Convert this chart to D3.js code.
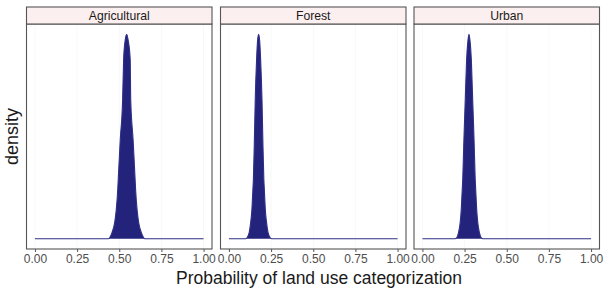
<!DOCTYPE html>
<html><head><meta charset="utf-8">
<script src="https://cdn.jsdelivr.net/npm/d3@7"></script>
<style>body{margin:0;background:#fff}svg{display:block}text{font-family:"Liberation Sans",Arial,Helvetica,sans-serif}</style>
</head><body>
<script>
const categories = ["Agricultural", "Forest", "Urban"];
const xTicks = [0, 0.25, 0.5, 0.75, 1];
const xTickLabels = ["0.00", "0.25", "0.50", "0.75", "1.00"];
// density curves (x = probability, y = density)
const agriX = [0, 0.437, 0.443, 0.457, 0.473, 0.482, 0.491, 0.494, 0.506, 0.520, 0.526, 0.535, 0.544, 0.553, 0.565, 0.568, 0.582, 0.594, 0.597, 0.606, 0.615, 0.631, 0.645, 0.651, 1];
const agriY = [0, 0, 0.1, 0.6, 1.6, 2.8, 4.8, 5.8, 9.7, 13.6, 17.5, 19.4, 20, 19.4, 17.5, 13.6, 9.7, 5.8, 4.8, 2.8, 1.6, 0.6, 0.1, 0, 0];
const forestX = [0, 0.099, 0.107, 0.120, 0.129, 0.136, 0.142, 0.145, 0.151, 0.156, 0.164, 0.170, 0.176, 0.182, 0.188, 0.196, 0.201, 0.207, 0.210, 0.216, 0.223, 0.232, 0.245, 0.253, 1];
const forestY = [0, 0, 0.1, 0.6, 1.6, 2.8, 4.8, 5.8, 9.7, 13.6, 17.5, 19.4, 20, 19.4, 17.5, 13.6, 9.7, 5.8, 4.8, 2.8, 1.6, 0.6, 0.1, 0, 0];
const urbanX = [0, 0.193, 0.203, 0.214, 0.224, 0.230, 0.236, 0.239, 0.246, 0.254, 0.262, 0.270, 0.276, 0.282, 0.290, 0.298, 0.306, 0.313, 0.316, 0.322, 0.328, 0.338, 0.349, 0.359, 1];
const urbanY = [0, 0, 0.1, 0.6, 1.6, 2.8, 4.8, 5.8, 9.7, 13.6, 17.5, 19.4, 20, 19.4, 17.5, 13.6, 9.7, 5.8, 4.8, 2.8, 1.6, 0.6, 0.1, 0, 0];
const seriesX = [agriX, forestX, urbanX];
const seriesY = [agriY, forestY, urbanY];

const W = 606, H = 288;
const svg = d3.select("body").append("svg").attr("width", W).attr("height", H);
const panelLeft = [26.5, 220.5, 414], panelW = 185.5;
const stripTop = 7, panelTop = 24, panelBottom = 249;
const yMax = d3.max(seriesY.flat());
const y = d3.scaleLinear().domain([0 - yMax * 0.05, yMax * 1.05]).range([panelBottom, panelTop]);

categories.forEach((cat, i) => {
  const x0 = panelLeft[i];
  const x = d3.scaleLinear().domain([-0.05, 1.05]).range([x0, x0 + panelW]);
  const g = svg.append("g");
  g.selectAll("line.grid").data(xTicks).enter().append("line")
    .attr("x1", d => x(d)).attr("x2", d => x(d)).attr("y1", panelTop).attr("y2", panelBottom)
    .attr("stroke", "#f6f6f6").attr("stroke-width", 0.8);
  const pts = seriesX[i].map((v, k) => [v, seriesY[i][k]]);
  const area = d3.area().x(d => x(d[0])).y0(y(0)).y1(d => y(d[1])).curve(d3.curveMonotoneX);
  g.append("path").attr("d", area(pts)).attr("fill", "#23237c").attr("stroke", "none");
  const line = d3.line().x(d => x(d[0])).y(d => y(d[1])).curve(d3.curveMonotoneX);
  g.append("path").attr("d", line(pts)).attr("fill", "none").attr("stroke", "#2f2f88").attr("stroke-width", 1.1);
  g.append("rect").attr("x", x0).attr("y", panelTop).attr("width", panelW).attr("height", panelBottom - panelTop)
    .attr("fill", "none").attr("stroke", "#555").attr("stroke-width", 1.1);
  g.append("rect").attr("x", x0).attr("y", stripTop).attr("width", panelW).attr("height", panelTop - stripTop)
    .attr("fill", "#fcefef").attr("stroke", "#555").attr("stroke-width", 1.1);
  g.append("text").attr("x", x0 + panelW / 2).attr("y", (stripTop + panelTop) / 2 + 4.3)
    .attr("text-anchor", "middle").attr("font-size", 12.2).attr("fill", "#1a1a1a").text(cat);
  const axis = d3.axisBottom(x).tickValues(xTicks).tickFormat((d, k) => xTickLabels[k]).tickSize(3).tickPadding(2);
  const ax = svg.append("g").attr("transform", `translate(0,${panelBottom})`).call(axis);
  ax.select(".domain").remove();
  ax.selectAll("line").attr("stroke", "#555");
  ax.selectAll("text").attr("font-size", 12).attr("fill", "#4d4d4d").attr("font-family", '"Liberation Sans",Arial,sans-serif');
});

svg.append("text").attr("x", 319).attr("y", 284).attr("text-anchor", "middle").attr("font-size", 17.5)
  .attr("fill", "#1a1a1a").text("Probability of land use categorization");
svg.append("text").attr("transform", `translate(18,${(panelTop + panelBottom) / 2}) rotate(-90)`)
  .attr("text-anchor", "middle").attr("font-size", 18).attr("fill", "#1a1a1a").text("density");
</script>
</body></html>
